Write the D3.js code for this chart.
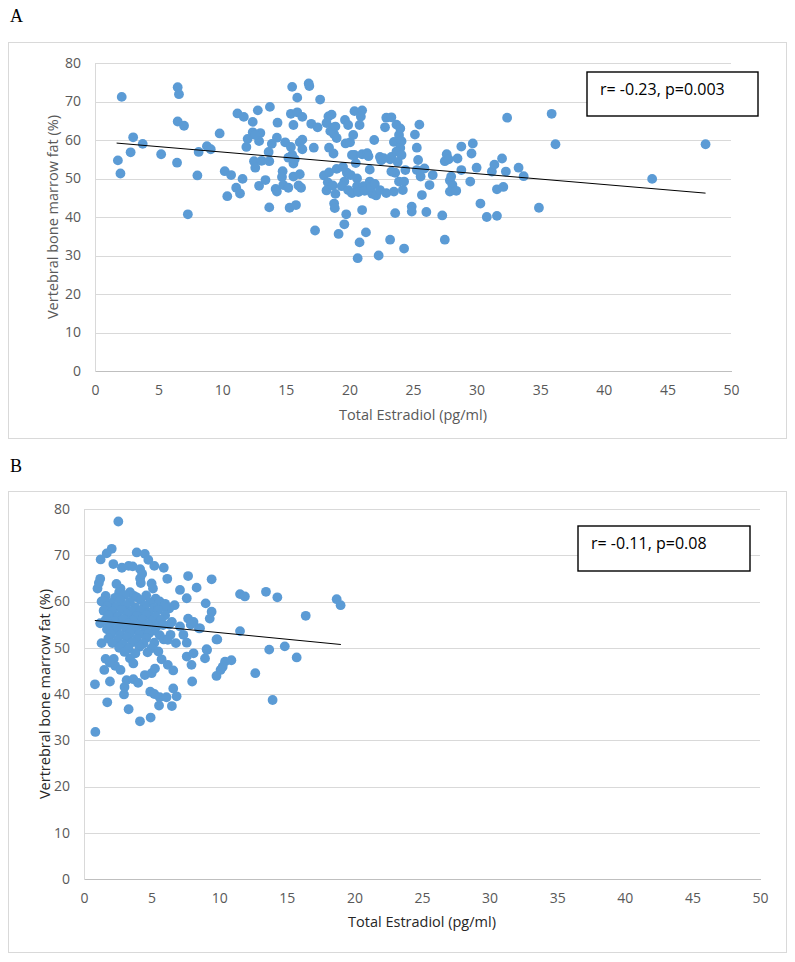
<!DOCTYPE html>
<html>
<head>
<meta charset="utf-8">
<script src="https://cdn.jsdelivr.net/npm/d3@7"></script>
<style>
  body { margin: 0; background: #fff; }
  text { font-family: "Open Sans", sans-serif; }
</style>
</head>
<body>
<svg id="chart"></svg>
<script>
// panel A: total estradiol vs vertebral bone marrow fat
const pointsA = [
  [2.1,71.2],[6.5,73.7],[6.6,71.9],[6.5,64.8],[7.0,63.7],[3.0,60.7],[3.75,59.0],[2.8,56.8],[1.8,54.7],[2.0,51.3],
  [5.2,56.3],[6.45,54.1],[7.3,40.7],[8.05,50.8],[8.15,56.9],[8.8,58.4],[9.1,57.6],[9.8,61.7],[10.2,51.9],[10.7,50.9],
  [10.4,45.4],[11.1,47.6],[11.4,46.1],[11.6,49.9],[11.2,66.9],[11.7,66.0],[12.4,64.7],[12.8,67.7],[12.0,60.3],[11.9,58.2],
  [12.4,62.0],[13.0,61.8],[12.9,59.7],[12.6,61.3],[12.5,54.5],[12.6,52.8],[13.1,54.6],[12.9,48.1],[13.4,49.6],[13.7,42.5],
  [13.75,68.6],[13.65,56.9],[13.7,54.5],[13.9,59.0],[14.3,60.6],[14.35,64.5],[14.2,47.3],[14.3,46.6],[14.75,51.9],[14.7,50.4],
  [14.8,48.3],[15.2,47.6],[14.95,59.4],[15.4,58.2],[15.5,56.1],[15.6,53.9],[15.5,73.8],[15.9,71.0],[15.4,66.8],[15.9,67.2],
  [16.3,66.0],[15.6,63.9],[16.1,59.4],[16.3,60.1],[16.3,57.6],[15.6,50.5],[16.1,51.1],[16.0,48.2],[16.2,47.6],[15.3,42.4],
  [15.8,43.1],[16.8,74.7],[16.85,74.0],[17.2,58.0],[17.0,64.2],[17.5,63.3],[17.7,70.5],[17.3,36.5],[15.2,55.4],[15.7,55.0],
  [18.35,66.1],[18.6,66.6],[18.2,64.4],[18.7,63.2],[18.8,61.5],[18.5,62.3],[19.0,60.5],[18.4,58.0],[18.75,56.5],[19.15,35.6],
  [18.8,43.5],[18.85,42.3],[18.0,50.8],[18.4,51.6],[18.3,49.0],[18.2,46.9],[18.7,48.2],[19.0,52.5],[18.9,46.0],[18.9,63.5],
  [19.65,65.2],[19.9,63.9],[19.7,59.1],[20.05,59.4],[20.1,50.9],[19.6,49.2],[19.4,48.0],[19.6,38.1],[19.75,40.7],[19.9,47.0],
  [20.2,46.2],[19.8,51.5],[19.5,53.0],[20.4,67.5],[21.0,67.7],[20.9,66.1],[20.8,63.9],[20.3,61.3],[20.4,56.1],[21.0,56.3],
  [21.4,56.6],[21.5,55.8],[20.2,56.1],[20.6,50.0],[20.6,48.0],[21.1,48.0],[21.0,41.8],[20.65,29.3],[20.8,33.4],[21.3,36.0],
  [20.7,46.5],[21.2,46.8],[20.5,54.0],[21.95,60.0],[21.6,52.3],[22.4,55.6],[22.5,54.7],[22.7,55.3],[21.6,49.2],[21.8,46.0],
  [22.1,45.6],[21.7,47.8],[22.3,30.0],[22.0,48.6],[22.4,47.0],[22.9,65.8],[23.3,65.9],[23.7,64.0],[24.0,63.0],[22.8,63.3],
  [23.2,55.0],[23.3,55.6],[23.5,59.5],[23.9,61.3],[24.1,59.7],[24.0,57.9],[23.7,57.0],[24.1,56.1],[23.8,54.3],[23.6,51.5],
  [23.3,51.8],[23.9,49.2],[23.5,46.6],[22.9,46.2],[24.3,49.2],[24.4,52.2],[23.6,41.0],[23.2,34.1],[24.3,31.8],[24.2,47.0],
  [24.9,42.7],[24.9,41.4],[25.15,61.4],[25.5,64.0],[25.3,58.0],[25.4,54.8],[25.3,52.2],[25.6,50.5],[25.9,52.6],[25.7,45.7],
  [26.3,48.3],[26.55,50.9],[26.05,41.3],[27.3,40.4],[27.5,34.1],[27.65,56.3],[27.5,54.5],[27.8,55.0],[27.9,49.5],[28.1,48.3],
  [27.9,46.6],[28.4,46.8],[28.0,50.5],[28.5,55.2],[28.8,52.2],[28.8,58.3],[29.7,59.1],[29.6,56.5],[29.5,49.2],[30.0,52.8],
  [30.3,43.5],[30.8,40.0],[31.6,40.3],[31.2,51.8],[31.4,53.6],[31.6,47.2],[32.1,47.8],[32.0,55.2],[32.3,51.8],[32.4,65.8],
  [33.3,52.8],[33.7,50.6],[34.9,42.4],[35.9,66.8],[36.2,58.9],[43.8,49.9],[48.0,58.9]
];

// panel B
const pointsB = [
  [2.54,77.3],[2.05,71.4],[1.68,70.4],[1.23,69.1],[3.9,70.6],[4.5,70.3],[4.76,69.0],[5.2,67.7],[5.9,67.3],[2.17,68.1],
  [2.8,67.3],[3.3,67.7],[3.6,67.6],[4.15,67.0],[4.15,65.0],[4.2,64.0],[4.3,66.0],[6.16,64.9],[7.7,65.5],[9.44,64.8],
  [8.33,63.0],[1.0,62.8],[1.1,64.0],[1.2,64.9],[2.4,63.8],[2.7,62.8],[2.6,62.0],[3.4,62.0],[3.7,61.2],[5.0,63.9],
  [5.1,62.8],[7.1,62.5],[7.6,60.7],[9.0,59.6],[9.44,57.8],[9.3,56.3],[9.8,51.8],[9.8,43.9],[6.7,59.2],[6.3,58.5],
  [7.7,56.3],[8.1,55.6],[8.5,54.2],[7.9,55.0],[7.35,52.8],[7.6,51.1],[1.3,60.0],[1.45,58.0],[1.2,55.3],[1.3,51.0],
  [1.6,47.6],[2.2,47.6],[2.3,46.1],[1.9,46.8],[1.5,45.2],[2.7,45.2],[3.4,47.7],[3.65,46.6],[0.81,42.1],[1.92,42.7],
  [1.72,38.2],[0.84,31.8],[3.3,36.7],[4.14,34.1],[4.93,34.9],[2.96,39.9],[3.0,41.5],[3.15,43.0],[3.65,43.2],[4.0,42.4],
  [4.5,44.1],[5.0,44.5],[5.25,45.5],[4.9,40.5],[5.2,40.0],[5.6,39.3],[5.55,37.5],[6.1,39.3],[6.5,37.4],[6.6,41.2],
  [6.85,39.5],[5.74,47.5],[6.2,46.3],[6.6,45.1],[7.6,48.1],[7.95,46.3],[8.1,48.8],[8.0,42.7],[8.95,47.7],[9.1,49.5],
  [10.43,47.0],[10.9,47.3],[10.26,45.9],[10.1,45.2],[11.54,61.6],[11.9,61.1],[11.54,53.6],[12.67,44.5],[13.46,62.1],[14.3,60.9],
  [13.7,49.6],[14.85,50.3],[15.73,47.9],[13.95,38.7],[16.4,56.9],[18.69,60.5],[18.98,59.2],[9.86,51.8],[8.58,54.2],[9.07,49.7],
  // dense cluster
  [1.6,61.2],[2.3,60.8],[3.0,61.4],[3.9,60.9],[4.6,61.3],[5.3,60.6],
  [1.4,60.1],[2.0,59.7],[2.7,60.2],[3.4,59.9],[4.2,60.3],[4.9,59.8],[5.6,60.0],[6.0,59.5],
  [1.7,59.0],[2.4,58.8],[3.1,59.2],[3.8,58.7],[4.5,59.1],[5.2,58.6],[5.9,58.9],
  [1.5,58.1],[2.1,57.8],[2.8,58.2],[3.5,57.9],[4.2,58.0],[4.8,57.6],[5.5,58.2],
  [1.8,57.0],[2.5,56.8],[3.2,57.2],[3.9,56.9],[4.6,57.1],[5.3,56.7],[6.0,57.0],
  [1.6,56.0],[2.2,55.8],[2.9,56.2],[3.6,55.9],[4.3,56.1],[5.0,55.7],[5.7,56.0],
  [1.9,55.0],[2.6,54.8],[3.3,55.2],[4.0,54.9],[4.7,55.1],[5.4,54.7],[6.3,55.0],[5.85,54.9],[6.5,55.6],[7.1,54.6],
  [1.7,54.0],[2.4,53.8],[3.1,54.2],[3.8,53.9],[4.5,54.1],[5.2,53.7],
  [2.0,53.0],[2.7,52.8],[3.4,53.2],[4.1,52.9],[4.8,53.1],[5.6,52.7],[6.4,52.8],
  [1.8,52.0],[2.5,51.8],[3.2,52.2],[3.9,51.9],[4.6,52.1],[5.9,51.8],[6.2,51.7],
  [2.1,51.0],[2.9,50.8],[3.6,51.2],[4.4,50.9],[5.2,51.1],[6.8,51.0],
  [2.6,50.0],[3.3,49.8],[4.1,50.2],[5.0,49.9],
  [3.0,49.1],[3.8,48.8],[4.7,49.0],[5.5,49.2]
];

// fitted trendlines, read as end points
const trendA = [[1.7, 59.2], [48.0, 46.2]];
const trendB = [[0.8, 55.9], [19.0, 50.7]];

const xTicks = [0, 5, 10, 15, 20, 25, 30, 35, 40, 45, 50];
const yTicks = [0, 10, 20, 30, 40, 50, 60, 70, 80];

const xTitle = 'Total Estradiol (pg/ml)';
const yTitleA = 'Vertebral bone marrow fat (%)';
const yTitleB = 'Vertrebral bone marrow fat (%)';
const noteA = 'r= -0.23, p=0.003';
const noteB = 'r= -0.11, p=0.08';

const width = 795, height = 962;
const svg = d3.select('#chart').attr('width', width).attr('height', height);

const panels = [
  { tag: 'A', tagY: 22, points: pointsA, trend: trendA, yTitle: yTitleA, note: noteA,
    frame: [8.5, 42.5, 778, 396], left: 95, right: 731, top: 63, bottom: 371,
    yLabelX: 81, xLabelY: 395, xTitleY: 420, yTitleX: 58, titleColor: '#595959',
    box: [587, 72, 171, 44], noteX: 600, noteY: 95 },
  { tag: 'B', tagY: 472, points: pointsB, trend: trendB, yTitle: yTitleB, note: noteB,
    frame: [8.5, 491.5, 778, 461], left: 84, right: 760, top: 509, bottom: 879,
    yLabelX: 70, xLabelY: 903, xTitleY: 927, yTitleX: 50, titleColor: '#262626',
    box: [578, 526, 172, 45], noteX: 591, noteY: 549 }
];

panels.forEach(p => {
  const g = svg.append('g');

  g.append('text')
    .attr('x', 10).attr('y', p.tagY)
    .style('font-family', '"Liberation Serif", "Times New Roman", serif')
    .style('font-size', '18px')
    .text(p.tag);

  g.append('rect')
    .attr('x', p.frame[0]).attr('y', p.frame[1])
    .attr('width', p.frame[2]).attr('height', p.frame[3])
    .attr('fill', 'none').attr('stroke', '#d9d9d9');

  const x = d3.scaleLinear().domain([0, 50]).range([p.left, p.right]);
  const y = d3.scaleLinear().domain([0, 80]).range([p.bottom, p.top]);

  // gridlines + y labels
  g.append('g')
    .attr('transform', `translate(${p.left},0)`)
    .call(d3.axisLeft(y).tickValues(yTicks).tickSize(-(p.right - p.left)).tickPadding(0))
    .call(a => a.select('.domain').remove())
    .call(a => a.selectAll('.tick line').attr('stroke', '#d9d9d9').attr('shape-rendering', 'crispEdges'))
    .call(a => a.selectAll('.tick text')
      .attr('x', p.yLabelX - p.left)
      .attr('fill', '#595959')
      .style('font-size', '14px'));

  // left axis line
  g.append('line')
    .attr('x1', p.left).attr('x2', p.left)
    .attr('y1', p.top).attr('y2', p.bottom)
    .attr('stroke', '#d9d9d9').attr('shape-rendering', 'crispEdges');

  // x axis
  g.append('g')
    .attr('transform', `translate(0,${p.bottom})`)
    .call(d3.axisBottom(x).tickValues(xTicks).tickSize(0).tickPadding(0))
    .call(a => a.select('.domain').attr('stroke', '#bfbfbf').attr('shape-rendering', 'crispEdges'))
    .call(a => a.selectAll('.tick text')
      .attr('y', p.xLabelY - p.bottom)
      .attr('dy', 0)
      .attr('fill', '#595959')
      .style('font-size', '14px'));

  g.append('text')
    .attr('x', (p.left + p.right) / 2).attr('y', p.xTitleY)
    .attr('text-anchor', 'middle')
    .attr('fill', p.titleColor)
    .style('font-size', '14.5px')
    .text(xTitle);

  g.append('text')
    .attr('transform', `translate(${p.yTitleX},${(p.top + p.bottom) / 2}) rotate(-90)`)
    .attr('text-anchor', 'middle')
    .attr('fill', p.titleColor)
    .style('font-size', '14.5px')
    .text(p.yTitle);

  // points
  g.append('g')
    .selectAll('circle')
    .data(p.points)
    .join('circle')
    .attr('cx', d => x(d[0]))
    .attr('cy', d => y(d[1]))
    .attr('r', 4.9)
    .attr('fill', '#5b9bd5');

  // trendline
  g.append('path')
    .datum(p.trend)
    .attr('fill', 'none')
    .attr('stroke', '#000')
    .attr('stroke-width', 1)
    .attr('d', d3.line().x(d => x(d[0])).y(d => y(d[1])));

  // r / p annotation
  g.append('rect')
    .attr('x', p.box[0]).attr('y', p.box[1])
    .attr('width', p.box[2]).attr('height', p.box[3])
    .attr('fill', '#fff').attr('stroke', '#000').attr('stroke-width', 1.4);

  g.append('text')
    .attr('x', p.noteX).attr('y', p.noteY)
    .attr('fill', '#000')
    .style('font-size', '16px')
    .text(p.note);
});
</script>
</body>
</html>
